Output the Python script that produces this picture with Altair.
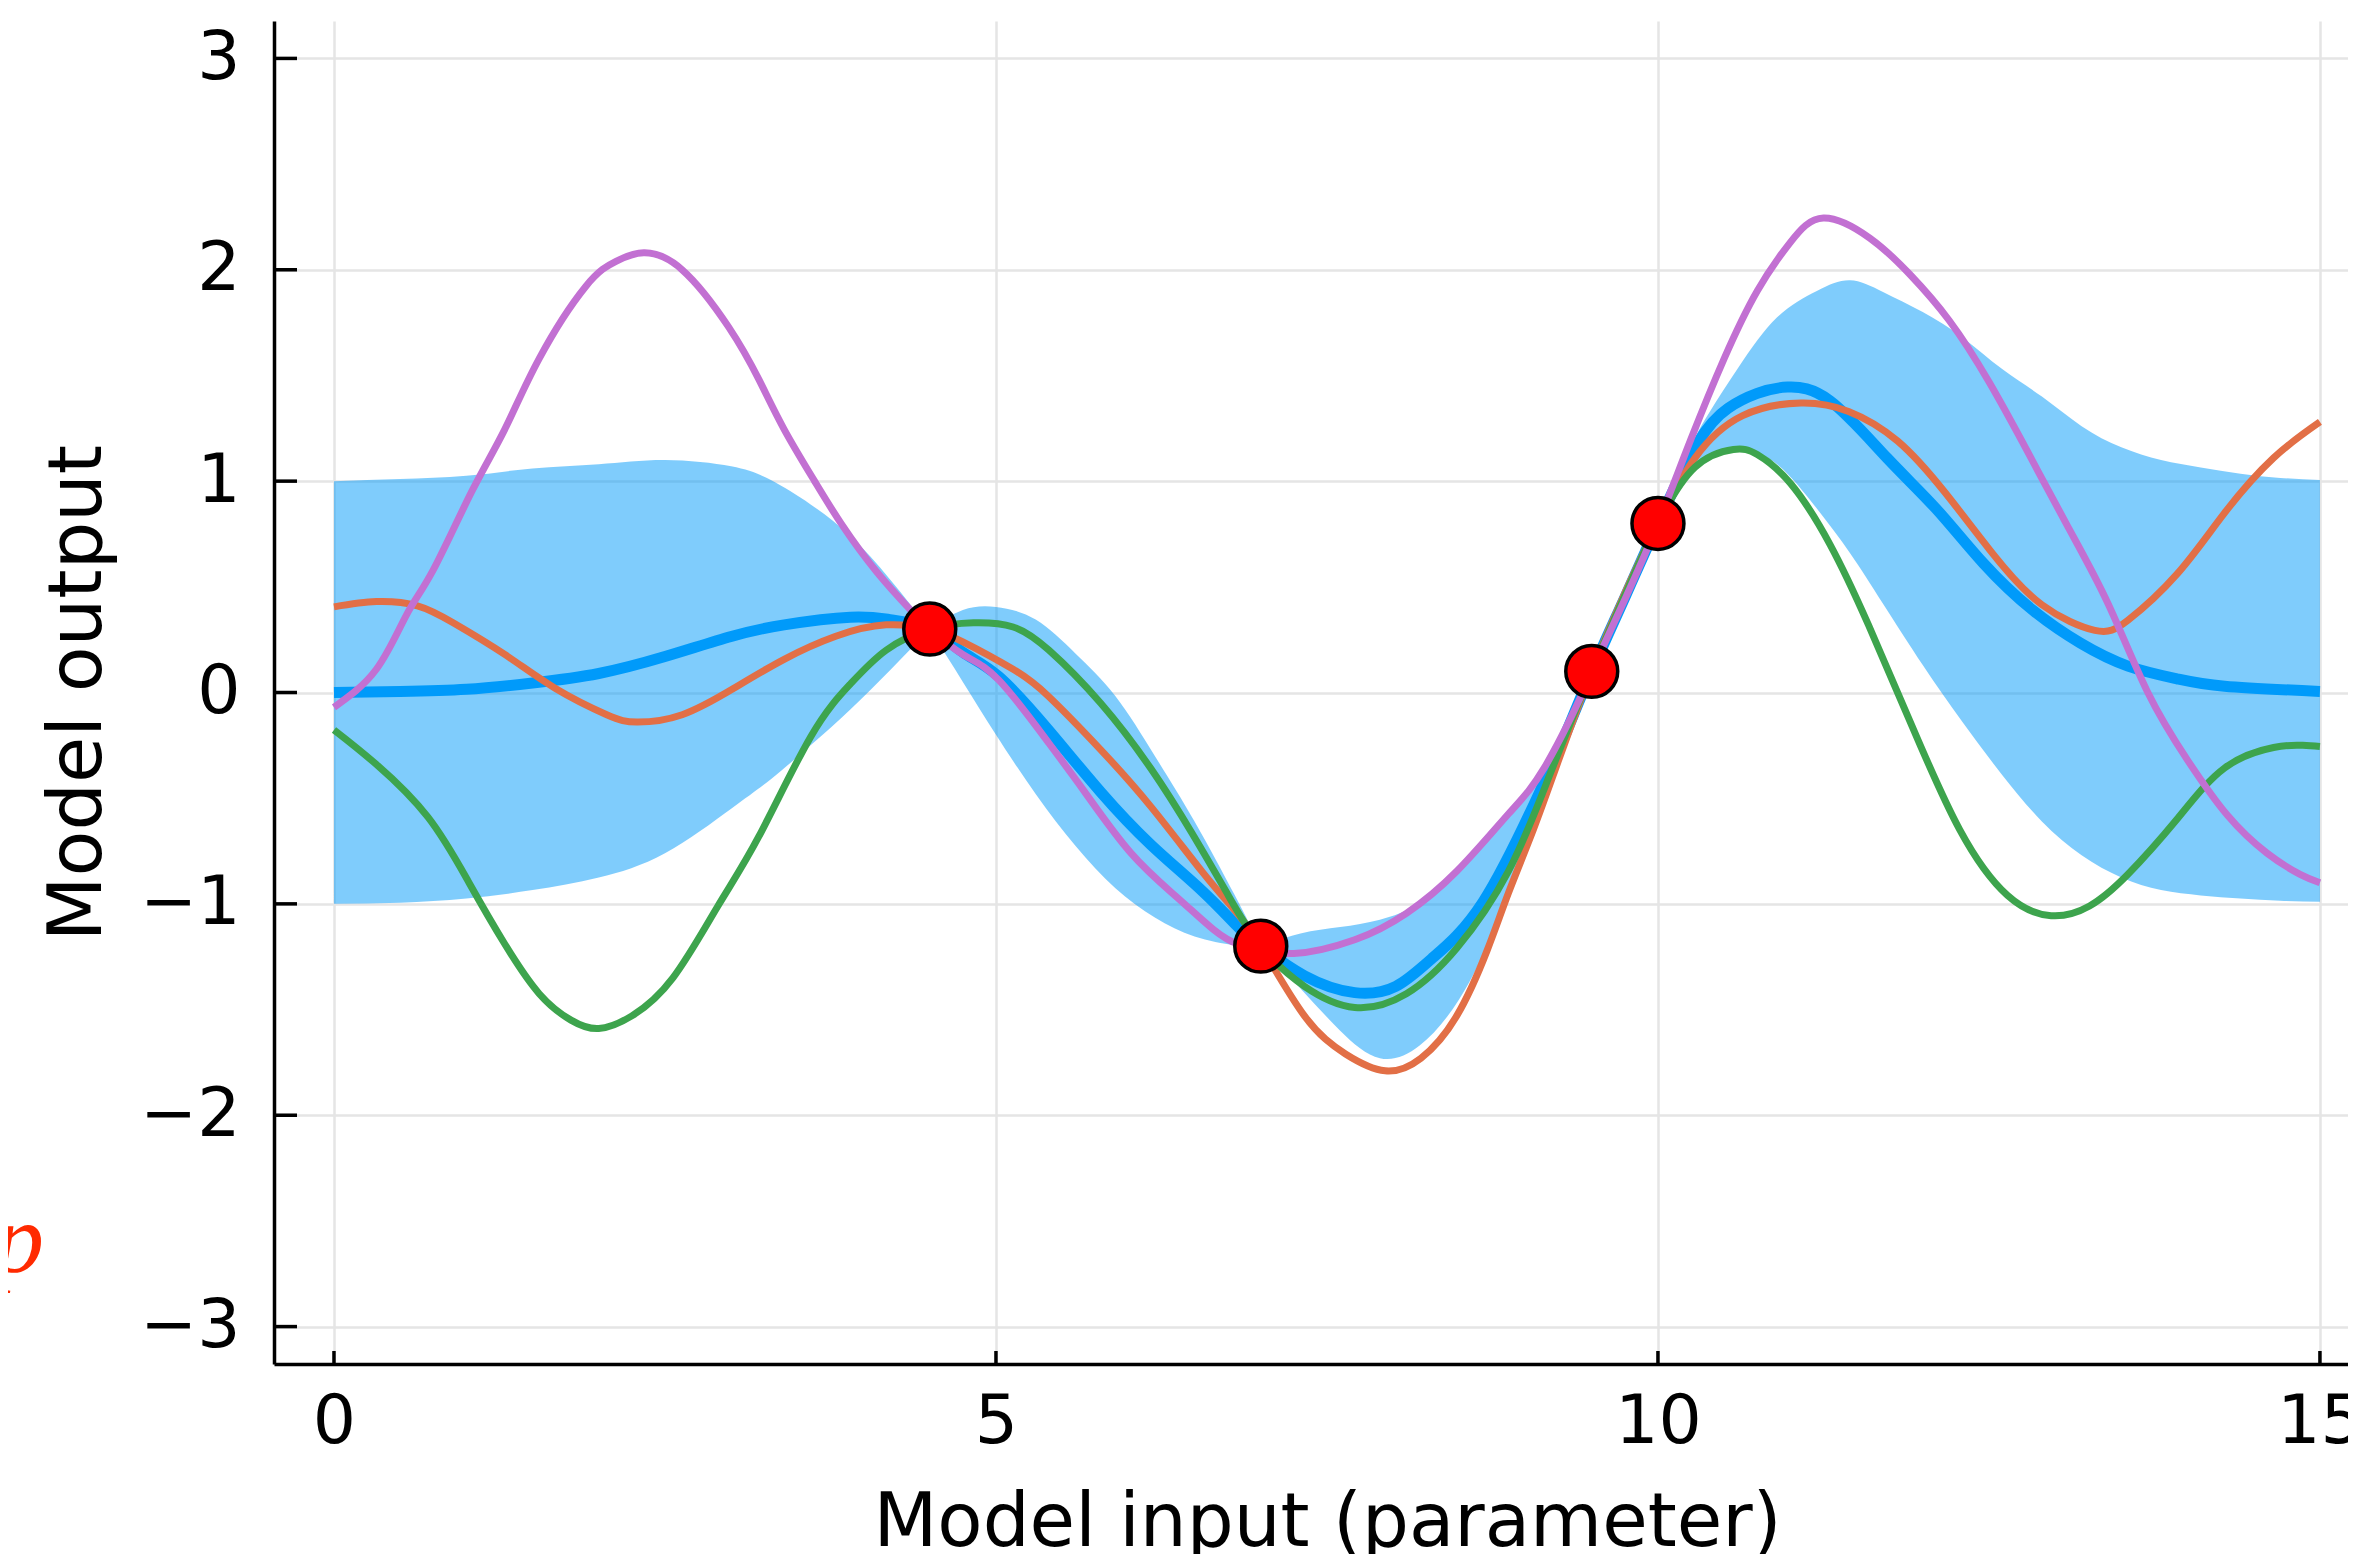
import altair as alt
import pandas as pd

# ---------------- data ----------------
obs_x = [4.5, 7.0, 9.5, 10.0]
obs_y = [0.3, -1.2, 0.1, 0.8]

band_x = [0, 0.5, 1.0, 1.5, 2.0, 2.5, 3.0, 3.3, 3.6, 3.9, 4.2, 4.5, 4.75, 5.0, 5.3,
          5.6, 5.9, 6.2, 6.5, 6.8, 7.0, 7.3, 7.6, 7.9, 8.2, 8.5, 8.8, 9.1, 9.3, 9.5,
          9.75, 10.0, 10.15, 10.3, 10.6, 10.9, 11.2, 11.45, 11.7, 12.0, 12.3, 12.6,
          12.9, 13.2, 13.5, 13.8, 14.1, 14.4, 14.7, 15.0]
band_upper = [1.0, 1.01, 1.025, 1.06, 1.08, 1.10, 1.07, 1.005, 0.89, 0.74, 0.535, 0.30,
              0.39, 0.405, 0.345, 0.185, -0.015, -0.30, -0.61, -0.955, -1.2, -1.14, -1.11,
              -1.075, -1.0, -0.85, -0.64, -0.40, -0.17, 0.1, 0.47, 0.8, 1.02, 1.23, 1.53,
              1.775, 1.90, 1.95, 1.895, 1.80, 1.68, 1.53, 1.40, 1.26, 1.16, 1.10, 1.065,
              1.035, 1.015, 1.005]
band_lower = [-1.0, -0.995, -0.975, -0.935, -0.875, -0.76, -0.55, -0.41, -0.25, -0.08,
              0.105, 0.30, 0.05, -0.20, -0.48, -0.725, -0.925, -1.065, -1.155, -1.195, -1.2,
              -1.40, -1.60, -1.73, -1.67, -1.45, -1.07, -0.58, -0.24, 0.1, 0.43, 0.8, 0.96,
              1.075, 1.14, 1.08, 0.87, 0.66, 0.42, 0.13, -0.14, -0.39, -0.61, -0.77, -0.875,
              -0.935, -0.96, -0.975, -0.985, -0.99]
band_pinches = [4.5, 7.0, 9.5, 10.0]

mean_x = [0, 0.5, 1.0, 1.5, 2.0, 2.5, 3.0, 3.4, 3.9, 4.2, 4.5, 4.75, 5.02, 5.4, 5.79, 6.17,
          6.56, 6.83, 7.0, 7.33, 7.71, 8.02, 8.29, 8.68, 9.1, 9.3, 9.5, 9.75, 10.0, 10.3,
          10.53, 10.75, 10.98, 11.3, 11.73, 12.1, 12.46, 12.83, 13.19, 13.55, 13.92, 14.28,
          15.0]
mean_y = [0.0, 0.005, 0.015, 0.045, 0.09, 0.17, 0.265, 0.32, 0.356, 0.345, 0.30, 0.19, 0.076,
          -0.18, -0.47, -0.72, -0.94, -1.11, -1.2, -1.34, -1.42, -1.39, -1.26, -0.99, -0.48,
          -0.2, 0.1, 0.45, 0.8, 1.18, 1.345, 1.415, 1.445, 1.38, 1.11, 0.87, 0.61, 0.39,
          0.234, 0.125, 0.065, 0.03, 0.005]

orange_x = [0, 0.32, 0.63, 0.9, 1.29, 1.67, 2.06, 2.29, 2.63, 3.02, 3.4, 3.79, 4.17, 4.5,
            4.75, 5.13, 5.4, 5.79, 6.17, 6.56, 6.79, 7.0, 7.33, 7.64, 7.94, 8.21, 8.48, 8.71,
            8.87, 9.06, 9.25, 9.5, 9.75, 10.0, 10.28, 10.64, 11.08, 11.44, 11.81, 12.17,
            12.53, 12.9, 13.3, 13.55, 13.92, 14.28, 14.65, 15.0]
orange_y = [0.405, 0.43, 0.41, 0.33, 0.18, 0.02, -0.105, -0.14, -0.105, 0.02, 0.157, 0.266,
            0.32, 0.30, 0.24, 0.11, -0.02, -0.27, -0.54, -0.85, -1.02, -1.2, -1.53, -1.71,
            -1.79, -1.73, -1.53, -1.22, -0.95, -0.647, -0.32, 0.1, 0.47, 0.8, 1.11, 1.31, 1.37,
            1.33, 1.19, 0.945, 0.656, 0.415, 0.294, 0.342, 0.56, 0.85, 1.11, 1.28]

green_x = [0, 0.32, 0.71, 1.02, 1.29, 1.55, 1.79, 2.0, 2.25, 2.56, 2.9, 3.21, 3.6, 3.9, 4.17,
           4.5, 4.83, 5.13, 5.4, 5.79, 6.17, 6.48, 6.75, 7.0, 7.33, 7.71, 8.1, 8.48, 8.87,
           9.18, 9.5, 9.75, 10.0, 10.28, 10.57, 10.75, 11.0, 11.3, 11.59, 11.92, 12.28, 12.64,
           12.97, 13.26, 13.55, 13.92, 14.28, 14.65, 14.87, 15.0]
green_y = [-0.177, -0.34, -0.59, -0.9, -1.19, -1.425, -1.55, -1.59, -1.53, -1.35, -1.01,
           -0.68, -0.21, 0.04, 0.20, 0.30, 0.33, 0.31, 0.20, -0.05, -0.36, -0.665, -0.955,
           -1.2, -1.39, -1.49, -1.425, -1.21, -0.846, -0.394, 0.1, 0.46, 0.8, 1.066, 1.15,
           1.126, 0.99, 0.70, 0.32, -0.16, -0.65, -0.96, -1.056, -1.01, -0.86, -0.60, -0.357,
           -0.26, -0.25, -0.256]

purple_x = [0, 0.32, 0.55, 0.75, 1.04, 1.29, 1.55, 1.9, 2.13, 2.34, 2.63, 2.98, 3.21, 3.4,
            3.63, 3.83, 4.1, 4.37, 4.5, 4.75, 5.02, 5.4, 5.67, 6.02, 6.37, 6.64, 6.83, 7.0,
            7.25, 7.71, 8.1, 8.48, 8.87, 9.14, 9.41, 9.5, 9.75, 10.0, 10.25, 10.5, 10.75,
            11.0, 11.25, 11.6, 11.9, 12.2, 12.5, 12.8, 13.1, 13.4, 13.7, 14.0, 14.3, 14.6,
            14.85, 15.0]
purple_y = [-0.07, 0.11, 0.37, 0.58, 0.95, 1.245, 1.58, 1.92, 2.04, 2.08, 2.0, 1.73, 1.48,
            1.245, 1.0, 0.80, 0.57, 0.38, 0.30, 0.18, 0.06, -0.24, -0.47, -0.76, -0.97, -1.12,
            -1.19, -1.21, -1.235, -1.17, -1.045, -0.846, -0.575, -0.358, -0.03, 0.1, 0.44, 0.8,
            1.2, 1.58, 1.9, 2.13, 2.245, 2.15, 1.98, 1.76, 1.47, 1.13, 0.78, 0.42, 0.0, -0.32,
            -0.58, -0.76, -0.86, -0.9]

x_ticks = [0, 5, 10, 15]
y_ticks = [-3, -2, -1, 0, 1, 2, 3]

note_x = [-2.19]
note_y = [-2.74]
note_text = ["p"]

# ---------------- styling ----------------
W, H = 2074, 1343
BLUE, ORANGE, GREEN, PURPLE = "#009AFA", "#E26F46", "#3DA44D", "#C270D2"
FONT = "DejaVu Sans"

xscale = alt.Scale(domain=[-0.453, 15.212], nice=False, zero=False)
yscale = alt.Scale(domain=[-3.177, 3.177], nice=False, zero=False)

xaxis = alt.Axis(values=x_ticks, title="Model input (parameter)", grid=True,
                 gridColor="#e5e5e5", gridWidth=2.5, ticks=False, tickSize=0,
                 domainColor="black", domainWidth=3.5, labelFont=FONT, labelFontSize=68,
                 labelColor="black", labelPadding=24, labelFlush=False, labelOverlap=False,
                 labelBound=False, titleFont=FONT, titleFontSize=74, titleFontWeight="normal",
                 titleColor="black", titleX=1053, titleY=181, titleBaseline="alphabetic",
                 titleAlign="center")
yaxis = alt.Axis(values=y_ticks, title="Model output", grid=True,
                 gridColor="#e5e5e5", gridWidth=2.5, ticks=False, tickSize=0,
                 domainColor="black", domainWidth=3.5, labelFont=FONT, labelFontSize=68,
                 labelColor="black", labelPadding=34, labelFlush=False, labelOverlap=False,
                 labelBound=False, titleFont=FONT, titleFontSize=75, titleFontWeight="normal",
                 titleColor="black", titleX=-174, titleY=H / 2, titleBaseline="alphabetic",
                 titleAlign="center", titleAngle=270)

X = alt.X("x:Q", scale=xscale, axis=xaxis)
Y = alt.Y("y:Q", scale=yscale, axis=yaxis)


def df(xs, ys):
    return pd.DataFrame({"x": xs, "y": ys})


# split the band at the observation points so each piece is smooth on its own
rows = []
edges = [0.0] + band_pinches + [15.0]
for s in range(len(edges) - 1):
    lo_e, hi_e = edges[s], edges[s + 1]
    for bx, bl, bu in zip(band_x, band_lower, band_upper):
        if lo_e <= bx <= hi_e:
            rows.append({"x": bx, "y": bl, "y2": bu, "seg": s})
band_df = pd.DataFrame(rows)

band = alt.Chart(band_df).mark_area(color=BLUE, opacity=0.5, interpolate="natural").encode(
    x=X, y=Y, y2="y2:Q", detail="seg:N")


def line(xs, ys, color, width):
    return alt.Chart(df(xs, ys)).mark_line(color=color, strokeWidth=width,
                                          interpolate="natural").encode(x=X, y=Y)


mean_line = line(mean_x, mean_y, BLUE, 11)
orange_line = line(orange_x, orange_y, ORANGE, 7)
green_line = line(green_x, green_y, GREEN, 7)
purple_line = line(purple_x, purple_y, PURPLE, 7)

dots = alt.Chart(df(obs_x, obs_y)).mark_point(
    shape="circle", filled=True, fill="#FF0000", stroke="black", strokeWidth=3.5,
    size=2700, opacity=1).encode(x=X, y=Y)

xtick_marks = alt.Chart(pd.DataFrame({"x": x_ticks})).mark_rule(
    color="black", strokeWidth=3.5).encode(x=X, y=alt.value(H), y2=alt.value(H - 13))
ytick_marks = alt.Chart(pd.DataFrame({"y": y_ticks})).mark_rule(
    color="black", strokeWidth=3.5).encode(y=Y, x=alt.value(0), x2=alt.value(23))

note = alt.Chart(pd.DataFrame({"x": note_x, "y": note_y, "t": note_text})).mark_text(
    align="right", baseline="alphabetic", font="Liberation Serif", fontStyle="italic",
    fontSize=100, color="#ff2a00").encode(x=X, y=Y, text="t:N")

chart = alt.layer(band, mean_line, orange_line, green_line, purple_line, dots,
                  xtick_marks, ytick_marks, note).properties(
    width=W, height=H,
    autosize=alt.AutoSizeParams(type="none"),
    padding={"left": 266, "top": 13, "right": 0, "bottom": 190},
    background="white",
).configure_view(stroke=None)

chart.save("out.html", embed_options={"renderer": "svg", "actions": False})
